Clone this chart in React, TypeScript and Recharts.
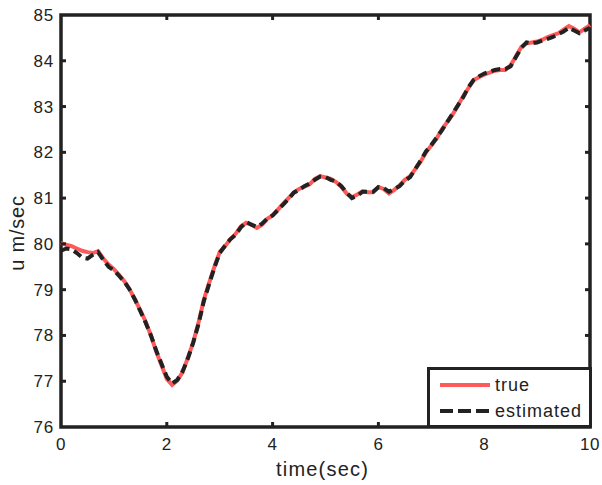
import React from 'react';
import { LineChart, Line, XAxis, YAxis, ReferenceArea } from 'recharts';

const times = [
  0.0, 0.1, 0.2, 0.3, 0.4, 0.5, 0.6, 0.7, 0.8, 0.9,
  1.0, 1.1, 1.2, 1.3, 1.4, 1.5, 1.6, 1.7, 1.8, 1.9,
  2.0, 2.1, 2.2, 2.3, 2.4, 2.5, 2.6, 2.7, 2.8, 2.9,
  3.0, 3.1, 3.2, 3.3, 3.4, 3.5, 3.6, 3.7, 3.8, 3.9,
  4.0, 4.1, 4.2, 4.3, 4.4, 4.5, 4.6, 4.7, 4.8, 4.9,
  5.0, 5.1, 5.2, 5.3, 5.4, 5.5, 5.6, 5.7, 5.8, 5.9,
  6.0, 6.1, 6.2, 6.3, 6.4, 6.5, 6.6, 6.7, 6.8, 6.9,
  7.0, 7.1, 7.2, 7.3, 7.4, 7.5, 7.6, 7.7, 7.8, 7.9,
  8.0, 8.1, 8.2, 8.3, 8.4, 8.5, 8.6, 8.7, 8.8, 8.9,
  9.0, 9.1, 9.2, 9.3, 9.4, 9.5, 9.6, 9.7, 9.8, 9.9, 10.0,
];

const trueU = [
  80.02, 79.98, 79.95, 79.9, 79.85, 79.82, 79.8, 79.84, 79.68, 79.55,
  79.45, 79.32, 79.18, 79.0, 78.78, 78.55, 78.3, 78.0, 77.65, 77.35,
  77.05, 76.92, 77.02, 77.2, 77.52, 77.85, 78.28, 78.78, 79.15, 79.5,
  79.82, 79.95, 80.1, 80.22, 80.38, 80.46, 80.42, 80.35, 80.42, 80.55,
  80.62, 80.75, 80.88, 81.0, 81.12, 81.2, 81.25, 81.3, 81.42, 81.48,
  81.45, 81.42, 81.35, 81.25, 81.1, 81.02, 81.08, 81.15, 81.13, 81.13,
  81.24, 81.2, 81.1, 81.18, 81.28, 81.4, 81.48, 81.64, 81.8, 82.0,
  82.15, 82.3, 82.5, 82.66, 82.82, 83.02, 83.22, 83.4, 83.58, 83.64,
  83.7, 83.74, 83.78, 83.8, 83.8, 83.9, 84.1, 84.3, 84.38, 84.4,
  84.42, 84.46, 84.52, 84.56, 84.6, 84.68, 84.76, 84.7, 84.62, 84.7, 84.78,
];

const estimatedU = [
  79.85, 79.9, 79.88, 79.8, 79.7, 79.68, 79.76, 79.82, 79.65, 79.5,
  79.42, 79.3, 79.17, 79.0, 78.78, 78.53, 78.28, 78.0, 77.67, 77.38,
  77.1, 76.95, 77.03, 77.22, 77.5, 77.85, 78.25, 78.75, 79.12, 79.48,
  79.8, 79.96, 80.1, 80.2, 80.36, 80.48, 80.42, 80.37, 80.44, 80.55,
  80.62, 80.74, 80.86, 80.98, 81.12, 81.18, 81.26, 81.32, 81.4, 81.47,
  81.46, 81.4, 81.36, 81.26, 81.12, 81.0, 81.05, 81.14, 81.14, 81.14,
  81.24, 81.22, 81.14, 81.2, 81.26, 81.38, 81.46, 81.64, 81.82, 82.02,
  82.16, 82.32, 82.48, 82.66, 82.84, 83.02, 83.2, 83.42, 83.58, 83.66,
  83.72, 83.76, 83.8, 83.82, 83.82, 83.88, 84.08, 84.28, 84.4, 84.38,
  84.4, 84.44, 84.48, 84.52, 84.58, 84.64, 84.72, 84.66, 84.6, 84.66, 84.72,
];

const xTicks = [0, 2, 4, 6, 8, 10];
const yTicks = [76, 77, 78, 79, 80, 81, 82, 83, 84, 85];
const seriesNames = ['true', 'estimated'];

const data = times.map((t, i) => ({ t, trueU: trueU[i], estimatedU: estimatedU[i] }));

const W = 602;
const H = 485;
const M = { top: 15, right: 12, left: 0, bottom: 0 };
const YW = 61;
const XH = 58;
const PLOT_W = W - M.left - M.right - YW;
const PLOT_H = H - M.top - M.bottom - XH;
const INK = '#222';
const RED = '#ff5a5a';
const FONT = 'Arial, "Liberation Sans", Helvetica, sans-serif';
const TICK_LEN = 5;

const XTick = (props: any) => {
  const { x, y, payload } = props;
  const v = payload.value;
  const edge = v === 0 || v === 10;
  return (
    <g>
      {!edge && <line x1={x} y1={y} x2={x} y2={y - TICK_LEN} stroke={INK} strokeWidth={3} />}
      {!edge && <line x1={x} y1={y - PLOT_H} x2={x} y2={y - PLOT_H + TICK_LEN} stroke={INK} strokeWidth={3} />}
      <text x={x} y={y + 23} textAnchor="middle" fontSize={17} fill={INK} fontFamily={FONT} letterSpacing={0.5}>
        {v}
      </text>
    </g>
  );
};

const YTick = (props: any) => {
  const { x, y, payload } = props;
  const v = payload.value;
  const edge = v === 76 || v === 85;
  return (
    <g>
      {!edge && <line x1={x} y1={y} x2={x + TICK_LEN} y2={y} stroke={INK} strokeWidth={3} />}
      {!edge && <line x1={x + PLOT_W} y1={y} x2={x + PLOT_W - TICK_LEN} y2={y} stroke={INK} strokeWidth={3} />}
      <text x={x - 7} y={y + 6} textAnchor="end" fontSize={17} fill={INK} fontFamily={FONT} letterSpacing={0.8}>
        {v}
      </text>
    </g>
  );
};

const YLabel = (props: any) => {
  const vb = props.viewBox || {};
  const cx = 17;
  const cy = (vb.y ?? M.top) + (vb.height ?? PLOT_H) / 2 + 12;
  return (
    <text
      x={cx}
      y={cy}
      transform={`rotate(-90 ${cx} ${cy})`}
      textAnchor="middle"
      dominantBaseline="central"
      fontSize={20}
      fill={INK}
      fontFamily={FONT}
      letterSpacing={0.8}
    >
      u m/sec
    </text>
  );
};

const XLabel = (props: any) => {
  const vb = props.viewBox || {};
  const cx = (vb.x ?? YW) + (vb.width ?? PLOT_W) / 2 - 3;
  const cy = (vb.y ?? H - XH) + 49;
  return (
    <text x={cx} y={cy} textAnchor="middle" fontSize={20} fill={INK} fontFamily={FONT} letterSpacing={1.2}>
      time(sec)
    </text>
  );
};

const LegendBox = () => (
  <div
    style={{
      position: 'absolute',
      left: 427,
      top: 367,
      width: 159,
      height: 55,
      border: `3px solid ${INK}`,
      background: '#fff',
    }}
  >
    <svg width={159} height={55} style={{ display: 'block' }}>
      <line x1={10} y1={15} x2={60} y2={15} stroke={RED} strokeWidth={4} />
      <text x={65} y={21} fontSize={18} fill={INK} fontFamily={FONT} letterSpacing={1}>{seriesNames[0]}</text>
      <line x1={10} y1={41} x2={60} y2={41} stroke={INK} strokeWidth={4} strokeDasharray="13 5" />
      <text x={65} y={47} fontSize={18} fill={INK} fontFamily={FONT} letterSpacing={1}>{seriesNames[1]}</text>
    </svg>
  </div>
);

export default function App() {
  return (
    <div style={{ position: 'absolute', left: 0, top: 0, width: W, height: H, background: '#fff' }}>
      <LineChart width={W} height={H} data={data} margin={M}>
        <XAxis
          dataKey="t"
          type="number"
          domain={[0, 10]}
          ticks={xTicks}
          height={XH}
          axisLine={false}
          tickLine={false}
          tickSize={0}
          tickMargin={0}
          tick={<XTick />}
          interval={0}
          label={<XLabel />}
        />
        <YAxis
          type="number"
          domain={[76, 85]}
          ticks={yTicks}
          width={YW}
          axisLine={false}
          tickLine={false}
          tickSize={0}
          tickMargin={0}
          tick={<YTick />}
          interval={0}
          label={<YLabel />}
        />
        <Line
          type="linear"
          dataKey="trueU"
          name={seriesNames[0]}
          stroke={RED}
          strokeWidth={4}
          dot={false}
          isAnimationActive={false}
        />
        <Line
          type="linear"
          dataKey="estimatedU"
          name={seriesNames[1]}
          stroke={INK}
          strokeWidth={4}
          strokeDasharray="9 5"
          dot={false}
          isAnimationActive={false}
        />
        <ReferenceArea x1={0} x2={10} y1={76} y2={85} fill="none" stroke={INK} strokeWidth={3.5} ifOverflow="visible" />
      </LineChart>
      <LegendBox />
    </div>
  );
}
